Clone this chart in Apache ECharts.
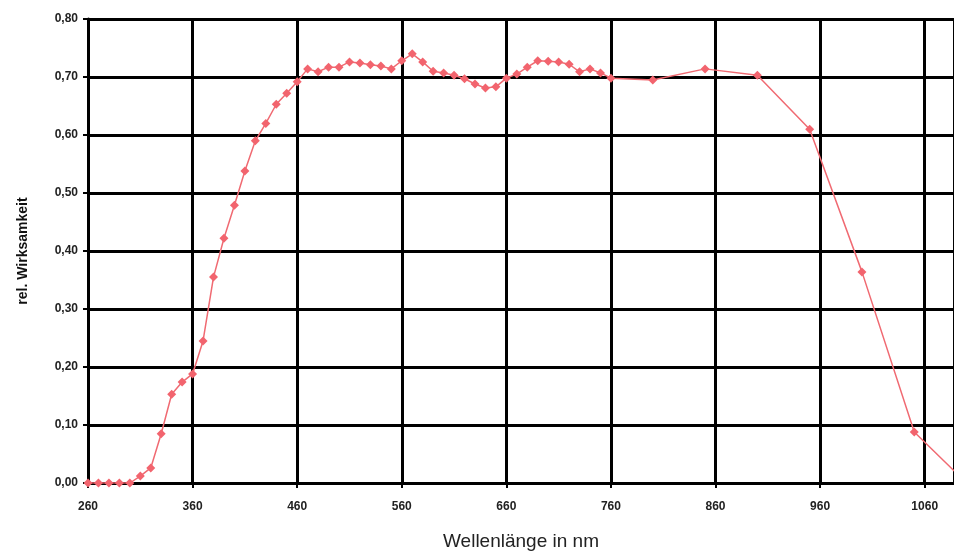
<!DOCTYPE html>
<html>
<head>
<meta charset="utf-8">
<script src="https://cdn.jsdelivr.net/npm/echarts@6/dist/echarts.min.js"></script>
<style>
  html, body { margin: 0; padding: 0; background: #fff; }
  #chart { width: 954px; height: 551px; }
</style>
</head>
<body>
<div id="chart"></div>
<script>
// Wellenlänge (nm) und relative Wirksamkeit
const wavelengths = [
  260, 270, 280, 290, 300, 310, 320, 330, 340, 350,
  360, 370, 380, 390, 400, 410, 420, 430, 440, 450,
  460, 470, 480, 490, 500, 510, 520, 530, 540, 550,
  560, 570, 580, 590, 600, 610, 620, 630, 640, 650,
  660, 670, 680, 690, 700, 710, 720, 730, 740, 750,
  760, 800, 850, 900, 950, 1000, 1050, 1100
]
const efficiency = [
  0.000, 0.000, 0.000, 0.000, 0.000, 0.012, 0.026, 0.085, 0.153, 0.174,
  0.188, 0.245, 0.355, 0.422, 0.479, 0.538, 0.590, 0.620, 0.653, 0.672,
  0.692, 0.714, 0.709, 0.717, 0.717, 0.726, 0.724, 0.721, 0.719, 0.714,
  0.728, 0.740, 0.726, 0.710, 0.707, 0.703, 0.697, 0.688, 0.681, 0.683,
  0.698, 0.705, 0.717, 0.728, 0.727, 0.726, 0.722, 0.709, 0.714, 0.707,
  0.698, 0.695, 0.714, 0.703, 0.610, 0.364, 0.088, 0.000
]
const xName = 'Wellenlänge in nm'
const yName = 'rel. Wirksamkeit'

const chart = echarts.init(document.getElementById('chart'))
const option = {
  backgroundColor: '#fff',
  animation: false,
  grid: {
    left: 88,
    right: 0,
    top: 19,
    bottom: 68,
    containLabel: false,
    outerBoundsMode: 'none'
  },
  xAxis: {
    type: 'value',
    min: 260,
    max: 1088,
    interval: 100,
    name: xName,
    nameLocation: 'middle',
    nameGap: 49,
    nameTextStyle: {
      fontFamily: 'Liberation Sans',
      fontSize: 19,
      color: '#222'
    },
    axisLine: { show: true, onZero: false, lineStyle: { color: '#000', width: 3 } },
    axisTick: { show: true, length: 5, lineStyle: { color: '#000', width: 2 } },
    axisLabel: {
      showMaxLabel: false,
      margin: 18,
      fontFamily: 'Liberation Sans',
      fontSize: 12,
      fontWeight: 'bold',
      color: '#222',
      formatter: v => String(v)
    },
    splitLine: { show: true, lineStyle: { color: '#000', width: 3 } }
  },
  yAxis: {
    type: 'value',
    min: 0,
    max: 0.8,
    interval: 0.1,
    name: yName,
    nameLocation: 'middle',
    nameRotate: 90,
    nameGap: 58,
    nameTextStyle: {
      fontFamily: 'Liberation Sans',
      fontSize: 14,
      fontWeight: 'bold',
      color: '#111'
    },
    axisLine: { show: true, lineStyle: { color: '#000', width: 3 } },
    axisTick: { show: true, length: 5, lineStyle: { color: '#000', width: 2 } },
    axisLabel: {
      margin: 10,
      fontFamily: 'Liberation Sans',
      fontSize: 12,
      fontWeight: 'bold',
      color: '#222',
      formatter: v => v.toFixed(2).replace('.', ',')
    },
    splitLine: { show: true, lineStyle: { color: '#000', width: 3 } }
  },
  series: [{
    type: 'line',
    data: wavelengths.map((w, i) => [w, efficiency[i]]),
    symbol: 'diamond',
    symbolSize: 9,
    showAllSymbol: true,
    lineStyle: { color: '#f06a72', width: 1.5 },
    itemStyle: { color: '#f2646e' },
    clip: true
  }]
}
chart.setOption(option)
</script>
</body>
</html>
